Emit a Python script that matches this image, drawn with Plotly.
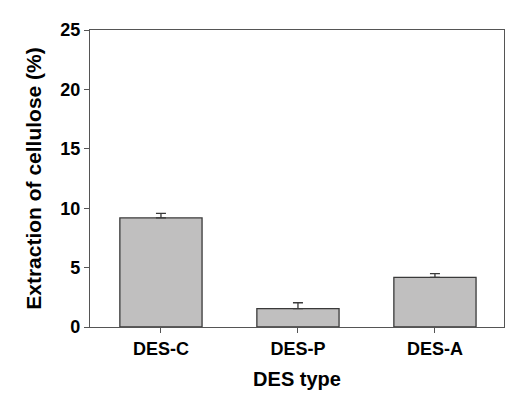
import plotly.graph_objects as go

categories = ["DES-C", "DES-P", "DES-A"]
extraction = [9.18, 1.54, 4.18]
error_up = [0.38, 0.5, 0.31]
y_ticks = [0, 5, 10, 15, 20, 25]

fig = go.Figure()
fig.add_trace(go.Bar(
    x=[0, 1, 2],
    y=extraction,
    width=0.6,
    marker=dict(color="#c0bfbf", line=dict(color="#3a3a3a", width=1.3)),
    error_y=dict(type="data", array=error_up, symmetric=False, arrayminus=[0, 0, 0],
                 color="#3a3a3a", thickness=1.3, width=5),
))

font_family = "Liberation Sans, Arial, sans-serif"
axis_common = dict(
    showline=True, linecolor="#555555", linewidth=1.3, mirror=True,
    ticks="outside", ticklen=5, tickcolor="#555555", tickwidth=1.3,
    showgrid=False, zeroline=False, automargin=False,
    tickfont=dict(family=font_family, size=18, color="black", weight="bold"),
)

fig.update_layout(
    width=516, height=396,
    margin=dict(l=82, r=20, t=22, b=77),
    paper_bgcolor="white", plot_bgcolor="white",
    showlegend=False,
    xaxis=dict(
        **axis_common,
        range=[-0.518, 2.504],
        tickmode="array", tickvals=[0, 1, 2], ticktext=categories,
        title=dict(text="DES type", font=dict(family=font_family, size=20, color="black", weight="bold"), standoff=14),
    ),
    yaxis=dict(
        **axis_common,
        range=[0, 25],
        tickmode="array", tickvals=y_ticks, ticktext=[str(v) for v in y_ticks],
        title=dict(text="Extraction of cellulose (%)", font=dict(family=font_family, size=21, color="black", weight="bold"), standoff=12),
    ),
)

fig.write_html("out.html")
